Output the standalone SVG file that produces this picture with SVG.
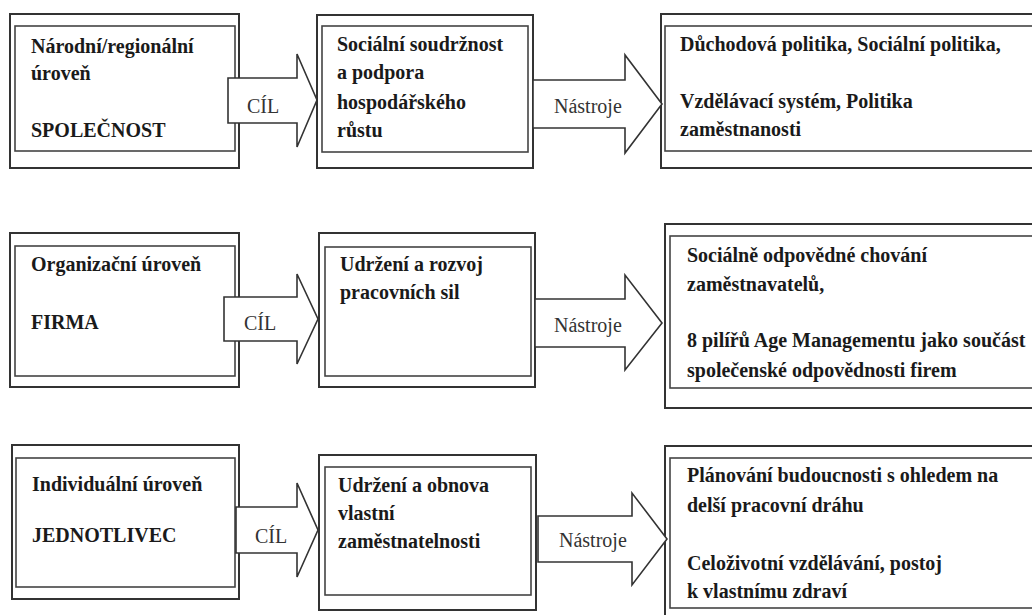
<svg xmlns="http://www.w3.org/2000/svg" width="1032" height="615" viewBox="0 0 1032 615">
<style>
.o{fill:none;stroke:#333;stroke-width:2}
.i{fill:none;stroke:#444;stroke-width:1.6}
.a{fill:#fff;stroke:#333;stroke-width:1.6;stroke-linejoin:miter}
text{font-family:'Liberation Serif','DejaVu Serif',serif;font-size:20px}
.t{font-weight:bold;fill:#1a1a1a}
.l{font-weight:normal;fill:#333}
</style>
<rect width="1032" height="615" fill="#fff"/>
<g id="a1">
<rect class="o" x="10" y="14" width="229" height="154"/>
<rect class="i" x="15" y="26" width="220" height="125"/>
<text class="t" x="31" y="53" font-family="Liberation Serif, serif">Národní/regionální</text>
<text class="t" x="31" y="80" font-family="Liberation Serif, serif">úroveň</text>
<text class="t" x="31" y="137" font-family="Liberation Serif, serif">SPOLEČNOST</text>
</g>
<g id="b1">
<rect class="o" x="317" y="15" width="216" height="153"/>
<rect class="i" x="322" y="26" width="206" height="126"/>
<text class="t" x="337" y="51" font-family="Liberation Serif, serif">Sociální soudržnost</text>
<text class="t" x="337" y="79" font-family="Liberation Serif, serif">a podpora</text>
<text class="t" x="337" y="109" font-family="Liberation Serif, serif">hospodářského</text>
<text class="t" x="337" y="137" font-family="Liberation Serif, serif">růstu</text>
</g>
<g id="c1">
<rect class="o" x="661" y="14" width="390" height="154"/>
<rect class="i" x="665" y="26" width="380" height="125"/>
<text class="t" x="680" y="51" font-family="Liberation Serif, serif">Důchodová politika, Sociální politika,</text>
<text class="t" x="680" y="108" font-family="Liberation Serif, serif">Vzdělávací systém, Politika</text>
<text class="t" x="680" y="136" font-family="Liberation Serif, serif">zaměstnanosti</text>
</g>
<g id="a2">
<rect class="o" x="10" y="233" width="229" height="154"/>
<rect class="i" x="15" y="246" width="220" height="130"/>
<text class="t" x="31" y="271" font-family="Liberation Serif, serif">Organizační úroveň</text>
<text class="t" x="31" y="329" font-family="Liberation Serif, serif">FIRMA</text>
</g>
<g id="b2">
<rect class="o" x="319" y="233" width="216" height="154"/>
<rect class="i" x="325" y="247" width="206" height="129"/>
<text class="t" x="340" y="271" font-family="Liberation Serif, serif">Udržení a rozvoj</text>
<text class="t" x="340" y="299" font-family="Liberation Serif, serif">pracovních sil</text>
</g>
<g id="c2">
<rect class="o" x="665" y="224" width="390" height="184"/>
<rect class="i" x="670" y="236" width="380" height="152"/>
<text class="t" x="687" y="262" font-family="Liberation Serif, serif">Sociálně odpovědné chování</text>
<text class="t" x="687" y="291" font-family="Liberation Serif, serif">zaměstnavatelů,</text>
<text class="t" x="687" y="347" font-family="Liberation Serif, serif">8 pilířů Age Managementu jako součást</text>
<text class="t" x="687" y="377" font-family="Liberation Serif, serif">společenské odpovědnosti firem</text>
</g>
<g id="a3">
<rect class="o" x="12" y="445" width="227" height="154"/>
<rect class="i" x="16" y="458" width="219" height="129"/>
<text class="t" x="32" y="491" font-family="Liberation Serif, serif">Individuální úroveň</text>
<text class="t" x="32" y="542" font-family="Liberation Serif, serif">JEDNOTLIVEC</text>
</g>
<g id="b3">
<rect class="o" x="319" y="455" width="217" height="155"/>
<rect class="i" x="325" y="467" width="206" height="128"/>
<text class="t" x="338" y="492" font-family="Liberation Serif, serif">Udržení a obnova</text>
<text class="t" x="338" y="520" font-family="Liberation Serif, serif">vlastní</text>
<text class="t" x="338" y="548" font-family="Liberation Serif, serif">zaměstnatelnosti</text>
</g>
<g id="c3">
<rect class="o" x="665" y="446" width="390" height="176"/>
<rect class="i" x="670" y="458" width="380" height="150"/>
<text class="t" x="687" y="482" font-family="Liberation Serif, serif">Plánování budoucnosti s ohledem na</text>
<text class="t" x="687" y="512" font-family="Liberation Serif, serif">delší pracovní dráhu</text>
<text class="t" x="687" y="570" font-family="Liberation Serif, serif">Celoživotní vzdělávání, postoj</text>
<text class="t" x="687" y="598" font-family="Liberation Serif, serif">k vlastnímu zdraví</text>
</g>
<g id="connectors">
<polygon class="a" points="228,78 297,78 297,54 317,100 297,147 297,123 228,123"/>
<polygon class="a" points="533,80 625,80 625,55 662,104 625,153 625,128 533,128"/>
<polygon class="a" points="224,297 297,297 297,274 318,319 297,364 297,341 224,341"/>
<polygon class="a" points="535,299 625,299 625,275 662,323 625,370 625,347 535,347"/>
<polygon class="a" points="236,507 297,507 297,483 318,530 297,577 297,553 236,553"/>
<polygon class="a" points="538,516 632,516 632,493 667,539 632,585 632,562 538,562"/>
<text class="l" x="247" y="113" font-family="Liberation Serif, serif">CÍL</text>
<text class="l" x="554" y="113" font-family="Liberation Serif, serif">Nástroje</text>
<text class="l" x="244" y="330" font-family="Liberation Serif, serif">CÍL</text>
<text class="l" x="554" y="332" font-family="Liberation Serif, serif">Nástroje</text>
<text class="l" x="255" y="543" font-family="Liberation Serif, serif">CÍL</text>
<text class="l" x="559" y="547" font-family="Liberation Serif, serif">Nástroje</text>
</g>
</svg>
